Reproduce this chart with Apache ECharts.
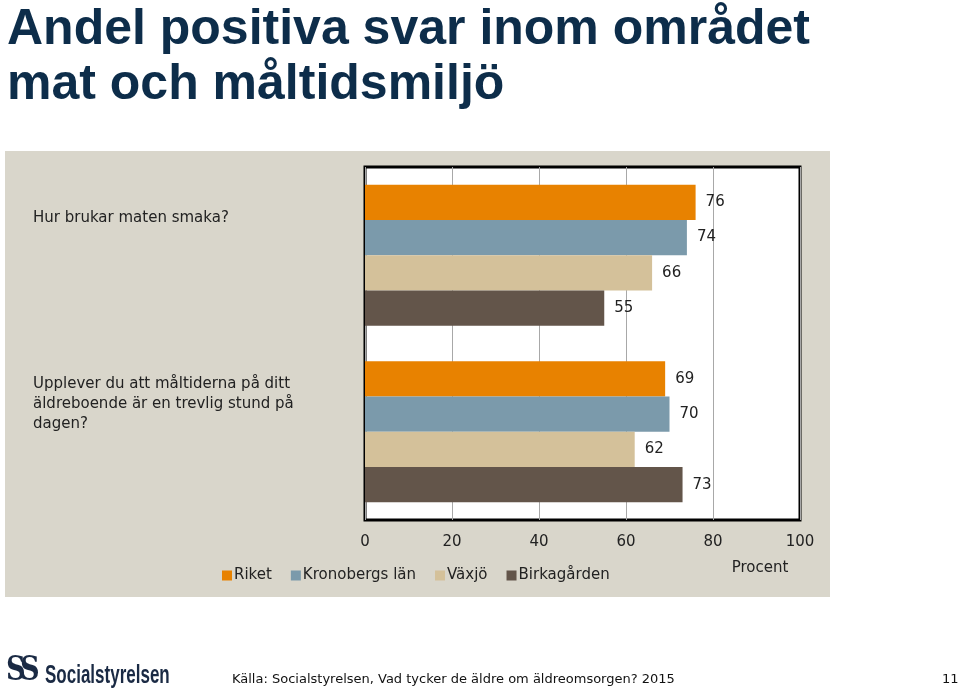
<!DOCTYPE html>
<html>
<head>
<meta charset="utf-8">
<script src="https://cdn.jsdelivr.net/npm/echarts@6/dist/echarts.min.js"></script>
<style>html,body{margin:0;padding:0;background:#fff}#c{width:960px;height:693px}</style>
</head>
<body>
<div id="c"></div>
<script>
var categories = [
  "Hur brukar maten smaka?",
  "Upplever du att måltiderna på ditt\näldreboende är en trevlig stund på\ndagen?"
];
var seriesNames = ["Riket", "Kronobergs län", "Växjö", "Birkagården"];
var riket = [76, 69];
var kronoberg = [74, 70];
var vaxjo = [66, 62];
var birka = [55, 73];
var xTicks = [0, 20, 40, 60, 80, 100];
var colors = ["#e88200", "#7b9aab", "#d4c19a", "#63554a"];
var values = [riket, kronoberg, vaxjo, birka];

var FONT = "DejaVu Sans";
var chart = echarts.init(document.getElementById('c'));

var series = seriesNames.map(function (n, i) {
  return {
    name: n,
    type: 'bar',
    data: values[i],
    barGap: '0%',
    barCategoryGap: '20%',
    itemStyle: { color: colors[i] },
    label: {
      show: true, position: 'right', distance: 10,
      color: '#222', fontSize: 15, fontFamily: FONT
    }
  };
});

chart.setOption({
  backgroundColor: '#ffffff',
  title: {
    text: 'Andel positiva svar inom området\nmat och måltidsmiljö',
    left: 2, top: -2,
    textStyle: { color: '#0d2d4a', fontSize: 50, fontWeight: 'bold', fontFamily: 'Liberation Sans', lineHeight: 55 }
  },
  graphic: [
    { type: 'rect', z: -10, shape: { x: 5, y: 151, width: 825, height: 446 }, style: { fill: '#d9d6cb' } },
    { type: 'text', x: 45, y: 664, scaleX: 0.68, style: { text: 'Socialstyrelsen', font: 'bold 25px "Liberation Sans"', fill: '#1a2a44' } },
    { type: 'text', x: 6, y: 654, scaleX: 0.8, style: { text: 'S', font: 'bold 34px "DejaVu Serif"', fill: '#1a2a44' } },
    { type: 'text', x: 20, y: 654, scaleX: 0.8, style: { text: 'S', font: 'bold 34px "DejaVu Serif"', fill: '#1a2a44' } },
    { type: 'text', left: 232, top: 673, style: { text: 'Källa: Socialstyrelsen, Vad tycker de äldre om äldreomsorgen? 2015', font: '13px "DejaVu Sans"', fill: '#111' } },
    { type: 'text', left: 942, top: 673, style: { text: '11', font: '13px "DejaVu Sans"', fill: '#111' } }
  ],
  legend: {
    data: seriesNames,
    left: 222, top: 568, padding: 0,
    icon: 'rect', itemWidth: 10, itemHeight: 10, itemGap: 19,
    textStyle: { color: '#222', fontSize: 15, fontFamily: FONT, padding: [0, 0, 0, -3] }
  },
  grid: {
    left: 365, right: 160, top: 167, bottom: 173,
    show: true, backgroundColor: '#ffffff', borderColor: '#000', borderWidth: 3
  },
  xAxis: {
    type: 'value', min: 0, max: 100, interval: 20,
    axisLine: { show: false }, axisTick: { show: false },
    splitLine: { show: true, lineStyle: { color: '#a8a8a8', width: 1 } },
    axisLabel: { color: '#222', fontSize: 15, fontFamily: FONT, margin: 15,
      formatter: function (v) { return xTicks.indexOf(v) >= 0 ? String(v) : ''; } },
    name: 'Procent', nameLocation: 'end', nameGap: -40,
    nameTextStyle: { color: '#222', fontSize: 15, fontFamily: FONT, align: 'center', verticalAlign: 'top', padding: [41, 0, 0, 0] }
  },
  yAxis: {
    type: 'category', data: categories, inverse: true,
    axisLine: { show: false }, axisTick: { show: false },
    axisLabel: {
      align: 'left', margin: 332,
      formatter: function (value, index) {
        var lines = value.split('\n').map(function (l) { return '{t|' + l + '}'; });
        lines.push(index === 0 ? '{g0| }' : '{g1| }');
        return lines.join('\n');
      },
      rich: {
        t: { color: '#222', fontSize: 15, fontFamily: FONT, lineHeight: 20 },
        g0: { fontSize: 10, lineHeight: 74 },
        g1: { fontSize: 10, lineHeight: 55 }
      }
    }
  },
  series: series
});
</script>
</body>
</html>
